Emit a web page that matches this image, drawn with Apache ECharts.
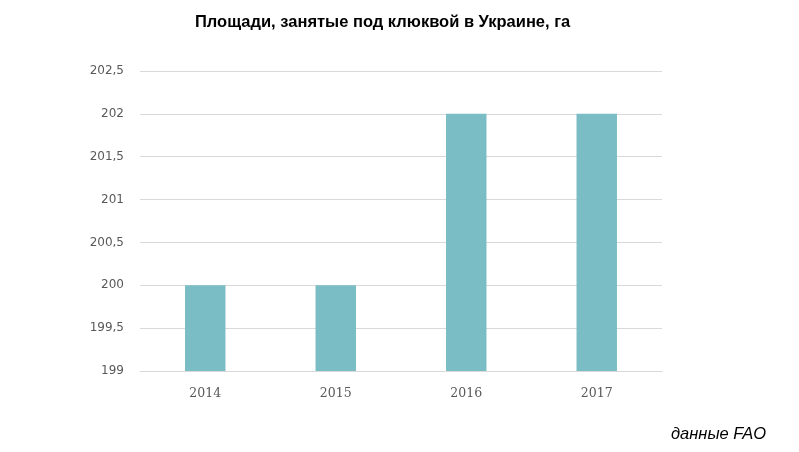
<!DOCTYPE html>
<html>
<head>
<meta charset="utf-8">
<script src="https://cdn.jsdelivr.net/npm/echarts@6/dist/echarts.min.js"></script>
<style>
  html, body { margin: 0; padding: 0; background: #fff; }
  #chart { width: 799px; height: 452px; }
</style>
</head>
<body>
<div id="chart"></div>
<script>
// данные
var years = ['2014', '2015', '2016', '2017'];
var area = [200, 200, 202, 202];

var chart = echarts.init(document.getElementById('chart'));
var option = {
    backgroundColor: '#fff',
    animation: false,
    title: [
        {
            text: 'Площади, занятые под клюквой в Украине, га',
            left: 190,
            top: 9,
            textStyle: {
                fontFamily: 'Liberation Sans, Arial',
                fontSize: 16.5,
                fontWeight: 'bold',
                color: '#000'
            }
        },
        {
            text: 'данные FAO',
            right: 28,
            top: 421,
            textStyle: {
                fontFamily: 'Liberation Sans, Arial',
                fontSize: 16.5,
                fontStyle: 'italic',
                fontWeight: 'normal',
                color: '#000'
            }
        }
    ],
    grid: {
        left: 140,
        right: 137,
        top: 71,
        bottom: 81,
        containLabel: false
    },
    xAxis: {
        type: 'category',
        data: years,
        axisLine: { show: true, lineStyle: { color: '#d9d9d9' } },
        axisTick: { show: false },
        axisLabel: {
            margin: 16,
            fontFamily: 'DejaVu Serif, Liberation Serif',
            fontSize: 12.5,
            color: '#595959'
        }
    },
    yAxis: {
        type: 'value',
        min: 199,
        max: 202.5,
        interval: 0.5,
        axisLine: { show: false },
        axisTick: { show: false },
        splitLine: { lineStyle: { color: '#d9d9d9' } },
        axisLabel: {
            margin: 16,
            fontFamily: 'DejaVu Sans, Verdana',
            fontSize: 12,
            color: '#595959',
            formatter: function (v) { return String(v).replace('.', ','); }
        }
    },
    series: [
        {
            type: 'bar',
            data: area,
            barWidth: '31%',
            itemStyle: { color: '#7bbdc5' }
        }
    ]
};
chart.setOption(option);
</script>
</body>
</html>
